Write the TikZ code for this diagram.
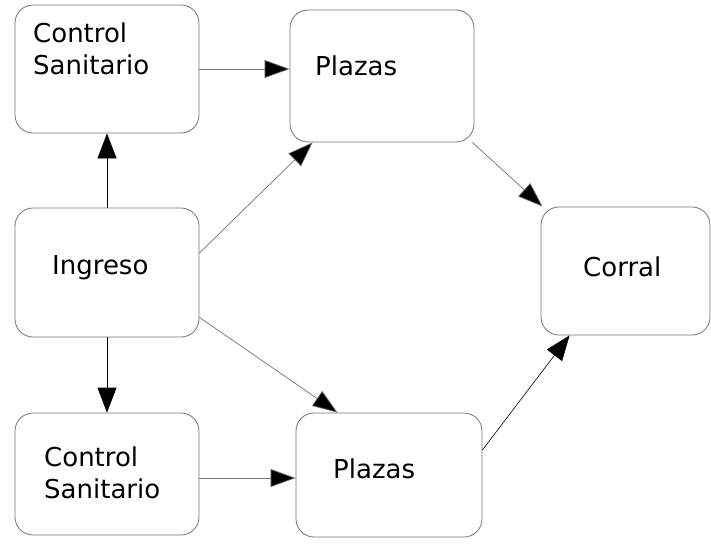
\documentclass[tikz,border=0pt]{standalone}
\usepackage{fontspec}
\setmainfont{DejaVu Sans}
\usetikzlibrary{arrows.meta}
\begin{document}
\begin{tikzpicture}[x=1pt,y=-1pt,
  box/.style={draw=black!55,line width=0.8pt,rounded corners=18pt,inner sep=0pt},
  lbl/.style={anchor=west,inner sep=0pt,font=\fontsize{26}{32}\selectfont,align=left},
  conn/.style={draw=black!55,line width=0.7pt,-{Triangle[length=25pt,width=18pt,fill=black]}},
  solidconn/.style={draw=black,line width=0.8pt,-{Triangle[length=25pt,width=19pt,fill=black]}}]
\useasboundingbox (0,0) rectangle (711,546);
% boxes
\node[box,minimum width=184pt,minimum height=128pt] (cs1) at (107,69) {};
\node[box,minimum width=184pt,minimum height=132pt] (p1) at (382,76) {};
\node[box,minimum width=184pt,minimum height=129pt] (ing) at (107,272.5) {};
\node[box,minimum width=169pt,minimum height=128pt] (cor) at (625.5,271) {};
\node[box,minimum width=184pt,minimum height=122pt] (cs2) at (107,474) {};
\node[box,minimum width=186pt,minimum height=124pt] (p2) at (389,475) {};
% texts
\node[lbl] (cs1t) at (33,49) {Control\\Sanitario};
\node[lbl] (p1t) at (315,66) {Plazas};
\node[lbl] (ingt) at (52,268) {Ingreso};
\node[lbl] (cort) at (583,267) {Corral};
\node[lbl] (cs2t) at (44,473) {Control\\Sanitario};
\node[lbl] (p2t) at (333,469) {Plazas};
% connectors
\draw[conn] (cs1.east) -- (cs1.east -| p1.west);
\draw[solidconn] (ing.north) -- (cs1.south);
\draw[conn] ([yshift=19.5pt]ing.east) -- ([xshift=23pt]p1.south west);
\draw[conn] ([xshift=-2pt]p1.south east) -- ([xshift=2pt]cor.north west);
\draw[conn] ([yshift=20pt]ing.south east) -- ([xshift=42pt]p2.north west);
\draw[conn] ([yshift=-4pt]cs2.east) -- ([yshift=-4pt]cs2.east -| p2.west);
\draw[solidconn] (ing.south) -- (cs2.north);
\draw[solidconn,line width=0.6pt] ([yshift=25pt]p2.east) -- ([xshift=29pt]cor.south west);
\end{tikzpicture}
\end{document}
